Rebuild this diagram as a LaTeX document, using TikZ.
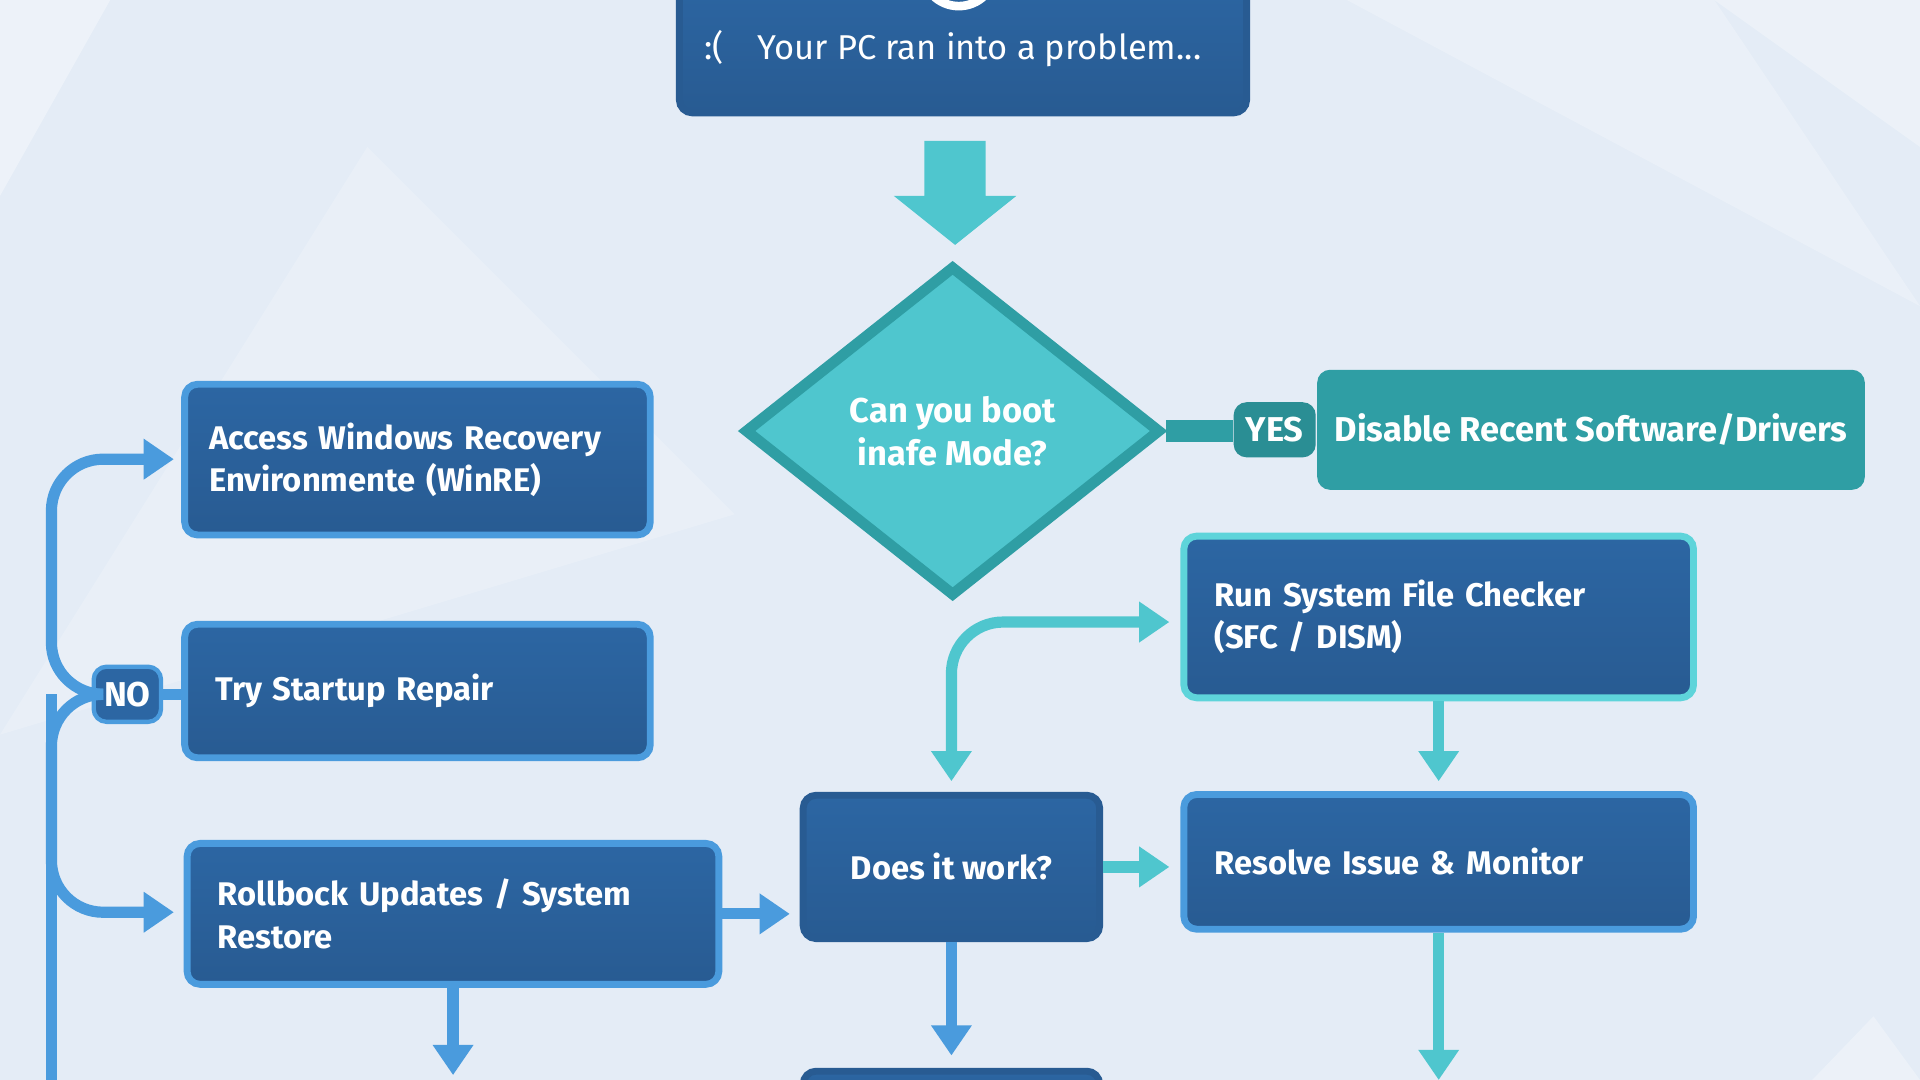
\documentclass[tikz,border=0pt]{standalone}
\usepackage{fontspec}
\setmainfont{Fira Sans}
\usetikzlibrary{arrows.meta,shapes.geometric}
\definecolor{bg}{HTML}{E4ECF6}
\definecolor{dk}{HTML}{285B92}
\definecolor{dkb}{HTML}{2C66A3}
\definecolor{bl}{HTML}{4A9BDD}
\definecolor{tl}{HTML}{4FC6CE}
\definecolor{tld}{HTML}{2F9EA4}
\definecolor{tlb}{HTML}{5ED4DA}
\tikzset{
 box/.style={draw=bl,line width=1.6pt,rounded corners=3pt,top color=dkb,bottom color=dk,text=white,font=\fontsize{7.6}{9.8}\selectfont\bfseries,align=left,inner ysep=0pt,inner xsep=0.2cm},
 tbox/.style={box,draw=tlb},
 ln/.style={line width=2.6pt,bl,rounded corners=12pt},
 tln/.style={line width=2.6pt,tl,rounded corners=12pt},
 ar/.style={-{Triangle[width=9pt,length=7pt]}},
}
\hyphenpenalty=10000
\begin{document}
\begin{tikzpicture}[x=0.01cm,y=-0.01cm]
\useasboundingbox (0,0) rectangle (1568,882);
\clip (0,0) rectangle (1568,882);
\fill[bg] (0,0) rectangle (1568,882);
\fill[white,opacity=.35] (0,160) -- (90,0) -- (0,0) -- cycle;
\fill[white,opacity=.3] (1400,0) -- (1568,120) -- (1568,0) -- cycle;
\fill[white,opacity=.25] (1100,0) -- (1568,250) -- (1400,0) -- cycle;
\fill[white,opacity=.3] (1480,882) -- (1530,830) -- (1568,882) -- cycle;
\fill[white,opacity=.2] (300,120) -- (600,420) -- (0,600) -- cycle;
% top
\node[box,draw=dk,minimum width=4.63cm,minimum height=1.15cm,anchor=south west] (top) at (552,95) {};
\node[text=white,font=\fontsize{8}{10}\selectfont] (toptxt) at (778,40) {:(\quad Your PC ran into a problem...};
\draw[white,line width=2pt] (783,-25) circle (30);
% big arrow
\fill[tl] (755,115) -- (805,115) -- (805,160) -- (830,160) -- (780,200) -- (730,160) -- (755,160) -- cycle;
% diamond
\node[diamond,draw=tld,line width=2.5pt,fill=tl,minimum width=3.4cm,minimum height=2.7cm,inner sep=0pt,text=white,align=center,font=\fontsize{8}{10}\selectfont\bfseries] (dia) at (778,352) {Can you boot\\inafe Mode?};
% yes
\node[fill=tld,rounded corners=3pt,minimum width=4.47cm,minimum height=0.98cm,anchor=west,inner sep=0pt,text=white,font=\fontsize{8}{10}\selectfont\bfseries] (dis) at (1075,351) {Disable Recent Software/Drivers};
\node[fill=tld!90!black,rounded corners=3pt,minimum width=0.67cm,minimum height=0.45cm,inner sep=0pt,text=white,font=\fontsize{8}{10}\selectfont\bfseries] (yes) at (1041,351) {YES};
\draw[tld,line width=5pt] (dia.east) -- (dia.east -| yes.west);
% left boxes
\node[box,minimum width=3.8cm,minimum height=1.23cm,anchor=north west,text width=3.4cm] (acc) at (148,311) {Access Windows Recovery\\Environmente (WinRE)};
\node[box,minimum width=3.8cm,minimum height=1.09cm,anchor=north west,text width=3.3cm,inner xsep=0.25cm] (try) at (148,507) {Try Startup Repair};
\node[box,minimum width=4.34cm,minimum height=1.15cm,anchor=north west,text width=3.84cm,inner xsep=0.25cm] (rol) at (150,686) {Rollbock Updates / System\\Restore};
\node[fill=dkb,draw=bl,line width=1pt,rounded corners=3pt,minimum width=0.55cm,minimum height=0.45cm,inner sep=0pt,text=white,font=\fontsize{8}{10}\selectfont\bfseries] (no) at (104,567) {NO};
\coordinate (cb) at (42,882);
\draw[ln,ar] (no.west) -- (42,567) -- (42,375) -- (142,375);
\draw[ln,ar] (no.west) -- (42,567) -- (42,745) -- (142,745);
\draw[ln,rounded corners=0pt] (42,567) -- (cb);
\draw[ln] (no.east) -- (no.east -| try.west);
% does it work
\node[box,draw=dk,minimum width=2.42cm,minimum height=1.17cm,align=center] (dw) at (777,708) {Does it work?};
\node[box,draw=dk,minimum width=2.42cm,minimum height=0.3cm,anchor=north] (bot) at (777,872) {};
\draw[ln,ar] (rol.east) -- (rol.east -| 645,0);
\draw[ln,ar] (370,802) -- (370,878);
\draw[ln,ar] (dw.south) -- (777,862);
% right
\node[tbox,minimum width=4.16cm,minimum height=1.32cm,anchor=north west,text width=3.66cm,inner xsep=0.25cm] (sfc) at (964,435) {Run System File Checker\\(SFC / DISM)};
\node[tbox,draw=bl,minimum width=4.16cm,minimum height=1.1cm,anchor=north west,text width=3.66cm,inner xsep=0.25cm] (res) at (964,646) {Resolve Issue \& Monitor};
\draw[tln,{Triangle[width=9pt,length=7pt]}-{Triangle[width=9pt,length=7pt]}] (777,638) -- (777,508) -- (955,508);
\draw[tln,ar] (sfc.south) -- (sfc.south |- 0,638);
\draw[tln,ar] (dw.east) -- (dw.east -| 955,0);
\draw[tln,ar] (res.south) -- (res.south |- 0,882);
\end{tikzpicture}
\end{document}
